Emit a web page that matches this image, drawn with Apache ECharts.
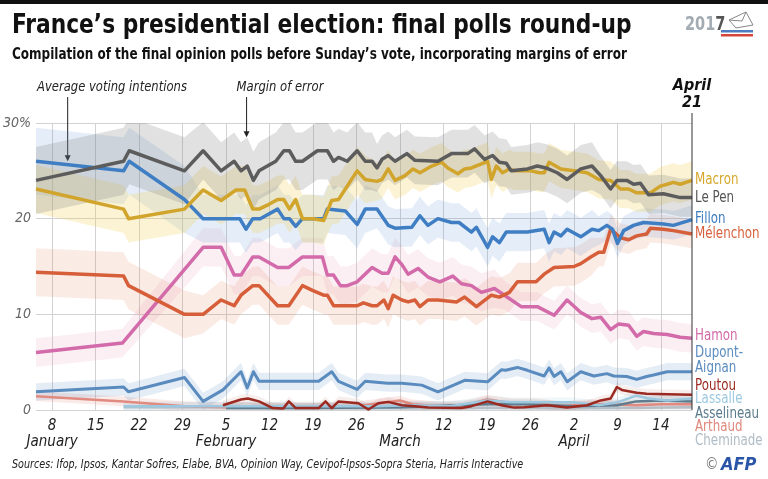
<!DOCTYPE html>
<html><head><meta charset="utf-8">
<script src="https://cdn.jsdelivr.net/npm/echarts@6/dist/echarts.min.js"></script>
<style>html,body{margin:0;padding:0;background:#fff}#c{width:768px;height:479px}</style>
</head><body><div id="c"></div>
<script>
const FONT = "'Liberation Sans Narrow','DejaVu Sans Condensed','Roboto',sans-serif";

// x values are day-of-year (Jan 8 = 8, Feb 5 = 36, Mar 5 = 64, Apr 2 = 92, Apr 21 = 111)
const tickDays = [8,15,22,29,36,43,50,57,64,71,78,85,92,99,106];
const tickLabels = ['8','15','22','29','5','12','19','26','5','12','19','26','2','9','14'];
const monthLabels = {8:'January',36:'February',64:'March',92:'April'};
const yTicks = [0,10,20,30];

const macron = [[5.4,23.1],[19.5,21],[20.3,20],[29.3,21],[32.3,23],[35.2,21.9],[37.6,23],[39,23],[40.3,21],[41.3,21],[42.9,21.5],[44.3,22],[45.3,22],[46.2,21],[47.2,22],[48.3,20],[50,20],[51.7,19.8],[53,21.9],[54.1,22],[57.1,25],[58.4,24.1],[60.3,23.9],[61.1,24.1],[62.1,25.2],[63.2,24],[64.8,24.5],[66.1,25.2],[67.2,24.8],[69.1,25.5],[70.7,25.9],[71.7,25.3],[73.3,24.7],[74.4,25.2],[75.5,25.3],[78.1,26],[78.7,24.1],[79.5,25.5],[80.5,24.8],[81.6,25.2],[82.4,25],[85.1,25],[86.4,24.8],[87.2,24.8],[88,25.9],[89.9,25.2],[92,25],[94.1,24.8],[96,24.1],[97.9,24],[99.5,23.1],[100.8,23.1],[102.1,22.7],[104.3,22.7],[105.9,23.4],[107,23.6],[108,23.8],[109.1,23.6],[111,24]];
const lePen = [[5.4,24],[19.5,26],[20.4,27.1],[29.3,25],[32.3,27.1],[35.2,25],[37.3,26],[38.4,25],[39.4,25.5],[40.4,24],[41.3,25],[44,26],[45.3,27.1],[46.2,27.1],[47.2,26],[48.3,26],[50.7,27.1],[52.3,27.1],[53.3,26],[54.1,26.4],[55.5,26],[57.1,27.1],[58.4,26],[59.5,26],[60.3,25.3],[61.1,26.2],[62.1,26.6],[63.2,26],[65.1,26.8],[66.4,26.1],[70.1,26],[72.3,26.8],[74.9,26.8],[76,27.3],[77.6,26.2],[78.9,26.6],[80,25.9],[81.1,25.8],[81.9,25],[84.5,25.2],[86.1,25.5],[87.5,25.3],[89.3,24.8],[90.9,24.1],[93.1,25.2],[94.9,25.5],[96.3,24.5],[97.9,23.1],[98.9,24],[100.5,24],[101.6,23.6],[102.7,23.7],[104,22.5],[106.4,22.6],[109.1,22.2],[111,22.2]];
const fillon = [[5.4,26],[19.5,25],[20.4,26],[29.3,22],[32.3,20],[38.2,20],[39.2,18.9],[40.3,20],[41.5,20],[44.3,21],[45.3,20],[46.2,20],[47.2,19.2],[48.3,20],[51.7,20],[52.3,21],[55.2,20.8],[57.1,19.4],[58.4,21],[60.3,21],[62.1,19.3],[63.2,19],[65.9,19.1],[67.2,20.3],[68.5,19.3],[70.1,20],[72.3,19.6],[73.5,19.6],[75.5,18.6],[76.3,19.1],[78.1,17],[78.9,18.1],[80,17.5],[81.1,18.6],[84.5,18.6],[87.2,18.9],[88,17.5],[88.8,18.6],[89.9,18.2],[90.9,18.9],[93.1,18.1],[94.9,18.9],[96,18.75],[97.3,19.3],[98.2,18.9],[99,17.4],[100,18.75],[101.6,19.3],[103.2,19.6],[106.4,19.45],[108,19.3],[111,19.9]];
const melenchon = [[5.4,14.4],[19.5,14],[20.3,13],[29.3,10],[32.3,10],[35.2,11.5],[37.3,10.9],[38.4,12],[40.3,13],[41.3,13],[44.3,10.9],[46.1,10.9],[48.3,13],[49.9,12.5],[51.7,12],[52.3,12],[53.3,10.9],[57.1,10.9],[58.1,11.2],[59.5,10.9],[60.3,10.9],[61.4,11.5],[62.1,10.6],[62.9,12],[64.3,11.5],[65.3,11.3],[66.4,11.5],[67.2,10.8],[68.5,11.5],[70.1,11.5],[73.1,11.3],[74.4,11.8],[76.3,10.8],[78.7,12],[80,11.8],[81.6,12.3],[82.9,13.4],[85.9,13.4],[87.2,14.2],[88.8,14.9],[92,15],[93.1,15.3],[94.7,16],[96,16.5],[96.8,16.5],[97.9,18.9],[99.5,18],[100.8,17.8],[102.1,18.2],[103.7,18.4],[104.3,19],[106.4,18.9],[108,18.75],[111,18.4]];
const hamon = [[5.4,6],[19.3,7],[32.3,17],[35.2,17],[37.3,14.1],[38.4,14.1],[40.3,16],[41.3,16],[44.3,14.9],[46.1,14.9],[48.3,16],[51.5,16],[52.3,14.1],[53.3,14.1],[54.4,13],[55.5,13],[57.1,13.4],[59.5,14.9],[61.1,14.3],[62.1,14.3],[63.2,16],[64.3,15.2],[65.3,14.2],[66.9,14.8],[68.5,13.9],[70.4,13.4],[72.5,14],[73.9,13.2],[75.5,13],[77.1,12.3],[79.2,12.7],[80.8,12],[83.5,10.8],[86.1,10.8],[88.8,9.9],[90.9,11.5],[93.1,10.2],[94.9,9.55],[96.3,9.7],[97.9,8.4],[99.2,9],[100.8,8.85],[102.1,7.7],[103.2,8.2],[104.8,8],[107,7.9],[109.1,7.6],[111,7.5]];
const dupontAignan = [[5.4,1.9],[19.5,2.4],[20.3,1.9],[29.3,3.4],[32.3,0.9],[35.5,2.1],[38.4,4],[39.4,2.3],[40.4,4],[41.3,3],[50.9,3],[53,4],[54.1,3],[57.1,2.15],[58.4,3],[62,2.8],[64.3,2.8],[67.5,2.6],[70.1,1.9],[71.7,2.35],[74.4,3.1],[78.1,2.95],[80.3,4.2],[81,4.15],[82.9,4.45],[84.5,4.15],[87.2,3.55],[88,4.4],[88.8,3.5],[89.9,4],[90.9,2.95],[93.1,4],[95.2,3.55],[97.3,3.8],[98.4,3.55],[100.5,3.5],[102.1,3.2],[103.7,3.5],[104.8,3.65],[107,4],[111,4]];
const poutou = [[35.5,0.5],[38.4,1.1],[39.5,1.2],[41.3,0.9],[43.5,0.2],[45.2,0.15],[46.1,0.9],[47.2,0.2],[50.9,0.2],[52,0.9],[53,0.2],[54.1,0.9],[57.3,0.7],[58.9,0.05],[60.5,0.7],[62.1,0.85],[64.3,0.5],[66.4,0.4],[68.5,0.25],[73.9,0.2],[75.5,0.4],[78.1,0.9],[80.3,0.5],[82.4,0.25],[84,0.3],[87.7,0.5],[90.9,0.25],[94.1,0.5],[96.3,1],[97.9,1.2],[98.9,2.4],[99.7,2.1],[102.1,1.8],[103.7,1.7],[107,1.65],[111,1.6]];
const lassalle = [[19.5,0.4],[30,0.4],[36,0.4],[50,0.4],[60,0.4],[66,0.5],[72,0.4],[78,1.0],[82,0.8],[88,0.8],[92,0.8],[96,0.5],[99,0.8],[102,1.5],[104,1.2],[107,1.0],[111,1.2]];
const asselineau = [[36,0.2],[50,0.2],[64,0.3],[78,0.6],[85,0.6],[92,0.4],[99,0.5],[102,0.9],[106,1.0],[111,0.9]];
const arthaud = [[5.4,1.45],[19.5,0.9],[29.3,0.4],[36,0.3],[43,0.3],[52,0.3],[57,0.4],[62,0.8],[64,1.0],[66,0.6],[70,0.4],[74,0.4],[78,1.1],[82,0.7],[86,0.7],[90,0.4],[94,0.6],[98,0.6],[102,0.5],[106,0.6],[111,0.6]];
const cheminade = [[19.5,0.3],[36,0.3],[60,0.2],[70,0.2],[80,0.2],[90,0.2],[99,0.2],[111,0.3]];

// margins of error: [from day, half-width]
const macronMoE = [[5,2.5],[60,2]];
const lePenMoE = [[5,3.5],[30,3],[60,2.5],[95,2]];
const fillonMoE = [[5,3.5],[30,2.5],[60,2],[95,1.5]];
const melenchonMoE = [[5,2.5],[30,2],[95,1.5]];
const hamonMoE = [[5,1.5],[30,2],[80,1.5]];
const dupontMoE = [[5,0.9]];
const smallMoE = [[5,0.5]];

const candidates = [
  {name:'Cheminade', data:cheminade, moe:smallMoE, color:'#b3bec8', band:'rgba(170,185,200,0.15)', w:2.5},
  {name:'Arthaud', data:arthaud, moe:smallMoE, color:'#e08a80', band:'rgba(230,140,130,0.18)', w:2.5},
  {name:'Asselineau', data:asselineau, moe:smallMoE, color:'#5f7d8e', band:'rgba(95,125,142,0.1)', w:2.5},
  {name:'Lassalle', data:lassalle, moe:smallMoE, color:'#9cc8e0', band:'rgba(156,200,224,0.15)', w:2.5},
  {name:'Poutou', data:poutou, moe:smallMoE, color:'#9b2a22', band:'rgba(155,42,34,0.08)', w:2.5},
  {name:'Dupont-Aignan', data:dupontAignan, moe:dupontMoE, color:'#5a8bbf', band:'rgba(90,139,191,0.16)', w:3},
  {name:'Hamon', data:hamon, moe:hamonMoE, color:'#d36aa9', band:'rgba(225,130,170,0.13)', w:3.5},
  {name:'Mélenchon', data:melenchon, moe:melenchonMoE, color:'#d65f3a', band:'rgba(225,120,80,0.15)', w:3.5},
  {name:'Fillon', data:fillon, moe:fillonMoE, color:'#3f7ec3', band:'rgba(80,140,205,0.15)', w:3.5},
  {name:'Macron', data:macron, moe:macronMoE, color:'#d1a42c', band:'rgba(245,210,90,0.26)', w:3.5},
  {name:'Le Pen', data:lePen, moe:lePenMoE, color:'#5c5c5c', band:'rgba(120,120,120,0.22)', w:3.5}
];

const endLabels = [
  {t:'Macron', y:180, c:'#d6a72b'},
  {t:'Le Pen', y:198, c:'#555555'},
  {t:'Fillon', y:219, c:'#3d7cc0'},
  {t:'Mélenchon', y:234, c:'#d8603c'},
  {t:'Hamon', y:336, c:'#d26aa8'},
  {t:'Dupont-', y:353, c:'#5a8bbf'},
  {t:'Aignan', y:368, c:'#5a8bbf'},
  {t:'Poutou', y:386, c:'#9b2a22'},
  {t:'Lassalle', y:399, c:'#9cc9e2'},
  {t:'Asselineau', y:414, c:'#5b7b8c'},
  {t:'Arthaud', y:427, c:'#e0877e'},
  {t:'Cheminade', y:441, c:'#b0bcc6'}
];

function moeAt(table, d){ let m = table[0][1]; for (const [s,v] of table) if (d >= s) m = v; return m; }

const series = [];
candidates.forEach((c) => {
  const bandData = c.data.map(([d,v]) => { const m = moeAt(c.moe, d); return [d, v - m, v + m]; });
  series.push({type:'custom', silent:true, z:1, clip:true, animation:false,
    encode:{x:0, y:[1,2]},
    data:bandData,
    renderItem:(params, api) => {
      if (params.dataIndex !== 0) return null;
      const up = bandData.map(p => api.coord([p[0], p[2]]));
      const lo = bandData.map(p => api.coord([p[0], p[1]])).reverse();
      return {type:'polygon', shape:{points: up.concat(lo)}, style:{fill:c.band}};
    }});
});
candidates.forEach(c => {
  series.push({type:'line', name:c.name, data:c.data, symbol:'none', z:3, animation:false,
    lineStyle:{color:c.color, width:c.w, join:'round'}});
});

const chart = echarts.init(document.getElementById('c'), null, {renderer:'canvas'});
chart.setOption({
  backgroundColor:'#ffffff',
  animation:false,
  grid:{left:32, right:76, top:123, bottom:69},
  xAxis:{type:'value', min:5.4, max:111,
    axisLine:{show:false},
    splitLine:{show:false},
    axisTick:{show:true, inside:true, length:287, customValues:tickDays, lineStyle:{color:'#d2d2d2', width:1}},
    axisLabel:{customValues:tickDays, margin:8, color:'#222', fontFamily:FONT, fontStyle:'italic', fontSize:15,
      formatter:(v)=>{ const i = tickDays.indexOf(Math.round(v)); const n = tickLabels[i] ?? '';
        const m = monthLabels[Math.round(v)]; return m ? '{n|'+n+'}\n{m|'+m+'}' : '{n|'+n+'}'; },
      rich:{n:{fontFamily:FONT, fontStyle:'italic', fontSize:15, color:'#222', lineHeight:16},
            m:{fontFamily:FONT, fontStyle:'italic', fontSize:15, color:'#222', lineHeight:17}}}
  },
  yAxis:{type:'value', min:0, max:30, interval:10,
    axisLine:{show:false}, axisTick:{show:false},
    splitLine:{show:true, lineStyle:{color:'#d2d2d2', width:1}},
    axisLabel:{margin:5, color:'#666', fontFamily:FONT, fontStyle:'italic', fontSize:14,
      formatter:(v)=> v === 30 ? '30%' : String(v)}
  },
  series: series
});

// annotations positioned through the chart's own scales
const pApr21Top = chart.convertToPixel({gridIndex:0}, [111, 30]);
const pApr21Bot = chart.convertToPixel({gridIndex:0}, [111, 0]);
const pAvg = chart.convertToPixel({gridIndex:0}, [10.5, 26]);
const pMoe = chart.convertToPixel({gridIndex:0}, [39.3, 28.5]);

const graphics = [
  {type:'rect', left:0, top:0, shape:{width:768, height:4}, style:{fill:'#111'}},
  {type:'text', x:12, y:26, scaleX:0.93, style:{text:'France’s presidential election: final polls round-up', font:'bold 26px '+FONT, fill:'#111', textVerticalAlign:'middle'}},
  {type:'text', x:12, y:55, scaleX:0.835, style:{text:'Compilation of the final opinion polls before Sunday’s vote, incorporating margins of error', font:'bold 16px '+FONT, fill:'#111', textVerticalAlign:'middle'}},
  {type:'text', x:112, y:87, scaleX:0.92, style:{text:'Average voting intentions', font:'italic 14px '+FONT, fill:'#222', textAlign:'center', textVerticalAlign:'middle'}},
  {type:'text', x:280, y:87, scaleX:0.92, style:{text:'Margin of error', font:'italic 14px '+FONT, fill:'#222', textAlign:'center', textVerticalAlign:'middle'}},
  {type:'line', shape:{x1:pAvg[0], y1:97, x2:pAvg[0], y2:pAvg[1]-5}, style:{stroke:'#222', lineWidth:1}},
  {type:'polygon', shape:{points:[[pAvg[0]-3,pAvg[1]-6],[pAvg[0]+3,pAvg[1]-6],[pAvg[0],pAvg[1]]]}, style:{fill:'#222'}},
  {type:'line', shape:{x1:pMoe[0], y1:97, x2:pMoe[0], y2:pMoe[1]-5}, style:{stroke:'#222', lineWidth:1}},
  {type:'polygon', shape:{points:[[pMoe[0]-3,pMoe[1]-6],[pMoe[0]+3,pMoe[1]-6],[pMoe[0],pMoe[1]]]}, style:{fill:'#222'}},
  {type:'line', shape:{x1:pApr21Top[0], y1:113, x2:pApr21Bot[0], y2:pApr21Bot[1]}, style:{stroke:'#333', lineWidth:1}, z:10},
  {type:'text', x:pApr21Top[0], y:86, style:{text:'April', font:'italic bold 16px '+FONT, fill:'#111', textAlign:'center', textVerticalAlign:'middle'}},
  {type:'text', x:pApr21Top[0], y:103, style:{text:'21', font:'italic bold 16px '+FONT, fill:'#111', textAlign:'center', textVerticalAlign:'middle'}},
  {type:'text', x:12, y:465, scaleX:0.89, style:{text:'Sources: Ifop, Ipsos, Kantar Sofres, Elabe, BVA, Opinion Way, Cevipof-Ipsos-Sopra Steria, Harris Interactive', font:'italic 12px '+FONT, fill:'#222', textVerticalAlign:'middle'}},
  {type:'text', x:705, y:465, style:{text:'©', font:'15px '+FONT, fill:'#777', textVerticalAlign:'middle'}},
  {type:'text', x:721, y:465, style:{text:'AFP', font:'italic bold 18px '+FONT, fill:'#2b56a8', textVerticalAlign:'middle'}},
  {type:'rect', shape:{x:721, y:30, width:32, height:2.5}, style:{fill:'#4d7cc0'}},
  {type:'rect', shape:{x:721, y:34, width:32, height:2.5}, style:{fill:'#d4453b'}},
  {type:'polygon', shape:{points:[[729,20],[746,12],[753,25],[736,28]]}, style:{fill:'#fff', stroke:'#888', lineWidth:1}},
  {type:'polyline', shape:{points:[[729,20],[742,21],[746,12]]}, style:{stroke:'#888', lineWidth:1, fill:null}},
  {type:'text', x:685, y:25, scaleX:0.85, style:{text:'{a|201}{b|7}', font:'bold 19px '+FONT, textVerticalAlign:'middle',
    rich:{a:{font:'bold 19px '+FONT, fill:'#a3abb3'}, b:{font:'bold 19px '+FONT, fill:'#555'}}}}
];
endLabels.forEach(l => graphics.push({type:'text', x:695, y:l.y, scaleX:0.88, style:{text:l.t, font:'15px '+FONT, fill:l.c, textVerticalAlign:'middle'}}));
chart.setOption({graphic:graphics});
</script>
</body></html>
